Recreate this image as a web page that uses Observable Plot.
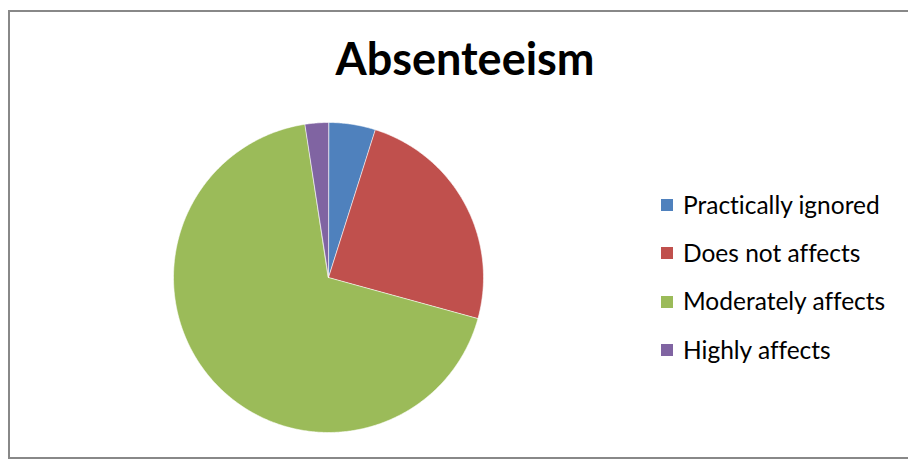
<!DOCTYPE html>
<html>
<head>
<meta charset="utf-8">
<script src="https://cdn.jsdelivr.net/npm/d3@7"></script>
<script src="https://cdn.jsdelivr.net/npm/@observablehq/plot@0.6"></script>
<style>
  html, body { margin: 0; padding: 0; background: #fff; overflow: hidden; }
  #wrap { position: relative; width: 908px; height: 462px; overflow: hidden; }
  #border { position: absolute; left: 8px; top: 10px; width: 1000px; height: 449px; border: 2px solid #888; box-sizing: border-box; }
  #title { position: absolute; left: 0; width: 930px; top: 36px; text-align: center; font-family: Lato, sans-serif; font-weight: bold; font-size: 45px; color: #000; line-height: 1; font-variant-ligatures: none; }
  #legend { position: absolute; left: 661px; top: 181px; font-family: Lato, sans-serif; font-size: 24.5px; color: #000; font-variant-ligatures: none; }
  .row { display: flex; align-items: center; height: 48.3px; line-height: 1; }
  .sw { width: 12px; height: 12px; margin-right: 10px; }
  #chart { position: absolute; left: 0; top: 0; }
</style>
</head>
<body>
<div id="wrap">
  <div id="border"></div>
  <div id="chart"></div>
  <div id="title"></div>
  <div id="legend"></div>
</div>
<script>
const title = "Absenteeism";
const categories = ["Practically ignored", "Does not affects", "Moderately affects", "Highly affects"];
const values = [2, 10, 28, 1];
const colors = ["#4F81BD", "#C0504D", "#9BBB59", "#8064A2"];

const data = categories.map((c, i) => ({category: c, value: values[i]}));
const arcs = d3.pie().sort(null).value(d => d.value)(data);

function slicePolygon(a) {
  const pts = [[0, 0]];
  const n = Math.max(2, Math.ceil((a.endAngle - a.startAngle) / (Math.PI / 360)));
  for (let k = 0; k <= n; k++) {
    const t = a.startAngle + (a.endAngle - a.startAngle) * k / n;
    pts.push([Math.sin(t), Math.cos(t)]);
  }
  pts.push([0, 0]);
  return pts;
}

const features = arcs.map(a => ({
  type: "Feature",
  properties: {category: a.data.category},
  geometry: {type: "Polygon", coordinates: [slicePolygon(a)]}
}));
const domain = {type: "MultiPolygon", coordinates: features.map(f => f.geometry.coordinates)};

const chart = Plot.plot({
  width: 908,
  height: 462,
  marginLeft: 173,
  marginRight: 425,
  marginTop: 122,
  marginBottom: 30,
  projection: {type: "reflect-y", domain},
  color: {domain: categories, range: colors},
  marks: [
    Plot.geo(features, {fill: d => d.properties.category, stroke: "#ffffff", strokeWidth: 0.6})
  ]
});
document.getElementById("chart").appendChild(chart);

document.getElementById("title").textContent = title;
const legend = document.getElementById("legend");
categories.forEach((c, i) => {
  const row = document.createElement("div");
  row.className = "row";
  const sw = document.createElement("div");
  sw.className = "sw";
  sw.style.background = colors[i];
  const label = document.createElement("span");
  label.textContent = c;
  row.appendChild(sw);
  row.appendChild(label);
  legend.appendChild(row);
});
</script>
</body>
</html>
